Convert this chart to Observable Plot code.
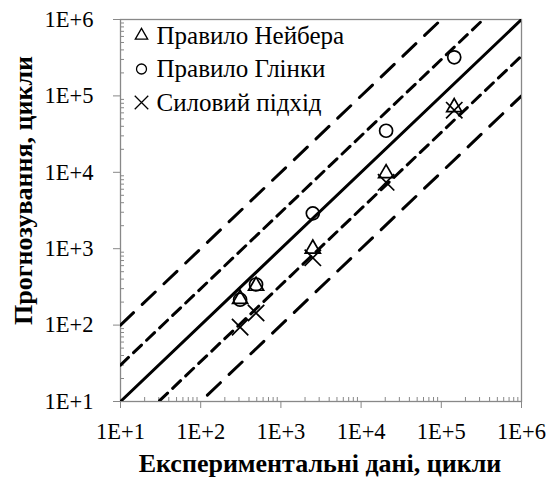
<!DOCTYPE html>
<html><head><meta charset="utf-8">
<script src="https://cdn.jsdelivr.net/npm/d3@7"></script>
<script src="https://cdn.jsdelivr.net/npm/@observablehq/plot@0.6"></script>
<style>
body{margin:0;background:#fff;}
#wrap{position:relative;width:550px;height:482px;overflow:hidden;}
</style></head><body><div id="wrap"></div>
<script>
// Experimental life (cycles) — x values for all three methods
const experimental = [310, 490, 2500, 20500, 145000];
// Predicted life (cycles)
const neuber = [220, 326, 1000, 9700, 71000];
const glinka = [215, 340, 2900, 35000, 320000];
const power = [94, 144, 760, 7400, 65000];
const seriesNames = ["Правило Нейбера", "Правило Глінки", "Силовий підхід"];
const seriesSymbols = ["triangle", "circle", "times"];
// scatter bands: y = factor * x
const bandFactors = [10, 3, 1, 1 / 3, 0.1];
const bandStyles = ["long", "short", "solid", "short", "long"];
const tickValues = [1e1, 1e2, 1e3, 1e4, 1e5, 1e6];
const tickLabels = ["1E+1", "1E+2", "1E+3", "1E+4", "1E+5", "1E+6"];
const xTitle = "Експериментальні дані, цикли";
const yTitle = "Прогнозування, цикли";

const series = [neuber, glinka, power].map((arr, s) =>
  arr.map((v, i) => ({x: experimental[i], y: v, series: seriesNames[s]})));
const markerR = [5.6, 6.5, 7.5];
const legendR = [4.6, 5, 6.2];

const domain = [tickValues[0], tickValues[tickValues.length - 1]];
const bandLines = bandFactors.map((k, i) => ({k, style: bandStyles[i],
  pts: [{x: domain[0], y: domain[0] * k}, {x: domain[1], y: domain[1] * k}]}));
const dash = {long: "18,12", short: "11,7", solid: null};

const minor = [];
for (let d = 0; d < tickValues.length - 1; d++)
  for (let m = 2; m <= 9; m++) minor.push(tickValues[d] * m);

const fmt = v => tickLabels[tickValues.indexOf(v)] ?? "";
const font = '"Liberation Serif", serif';

const legendMarks = seriesNames.flatMap((name, i) => [
  Plot.dot([name], {frameAnchor: "top-left", dx: 21, dy: 16 + 33.5 * i, symbol: seriesSymbols[i],
    r: legendR[i], stroke: "#000", fill: "none", strokeWidth: 1.3}),
  Plot.text([name], {frameAnchor: "top-left", dx: 36, dy: 16 + 33.5 * i, textAnchor: "start",
    lineAnchor: "middle", fontSize: 25, fill: "#000", fontFamily: font, style: "letter-spacing:1.3px"})
]);

const chart = Plot.plot({
  width: 550, height: 482,
  marginLeft: 120, marginRight: 29, marginTop: 19, marginBottom: 81,
  style: {fontFamily: font, fontSize: "22.5px", color: "#000", background: "#fff"},
  x: {type: "log", domain, label: null},
  y: {type: "log", domain, label: null},
  marks: [
    Plot.frame({stroke: "#888", strokeWidth: 1.3}),
    Plot.axisX({ticks: minor, tickSize: -4, tickFormat: () => "", stroke: "#888"}),
    Plot.axisY({ticks: minor, tickSize: -4, tickFormat: () => "", stroke: "#888"}),
    Plot.axisX({ticks: tickValues, tickSize: 7, tickPadding: 15, tickFormat: fmt, stroke: "#888", fill: "#000"}),
    Plot.axisY({ticks: tickValues, tickSize: 7, tickPadding: 20, tickFormat: fmt, stroke: "#888", fill: "#000"}),
    ...bandLines.map(b => Plot.line(b.pts, {x: "x", y: "y", stroke: "#000", strokeWidth: 3,
      strokeDasharray: dash[b.style], clip: true})),
    ...series.map((pts, s) => Plot.dot(pts, {x: "x", y: "y", symbol: seriesSymbols[s], r: markerR[s],
      stroke: "#000", fill: "none", strokeWidth: 1.7})),
    ...legendMarks,
    Plot.text([xTitle], {frameAnchor: "bottom", dy: 70, dx: -1, fontWeight: "bold", fontSize: 26,
      fill: "#000", fontFamily: font, style: "letter-spacing:1.4px"}),
    Plot.text([yTitle], {frameAnchor: "left", rotate: -90, dx: -97, dy: -20, textAnchor: "middle",
      lineAnchor: "middle", fontWeight: "bold", fontSize: 26, fill: "#000", fontFamily: font,
      style: "letter-spacing:0.6px"})
  ]
});
document.getElementById("wrap").prepend(chart);
</script></body></html>
